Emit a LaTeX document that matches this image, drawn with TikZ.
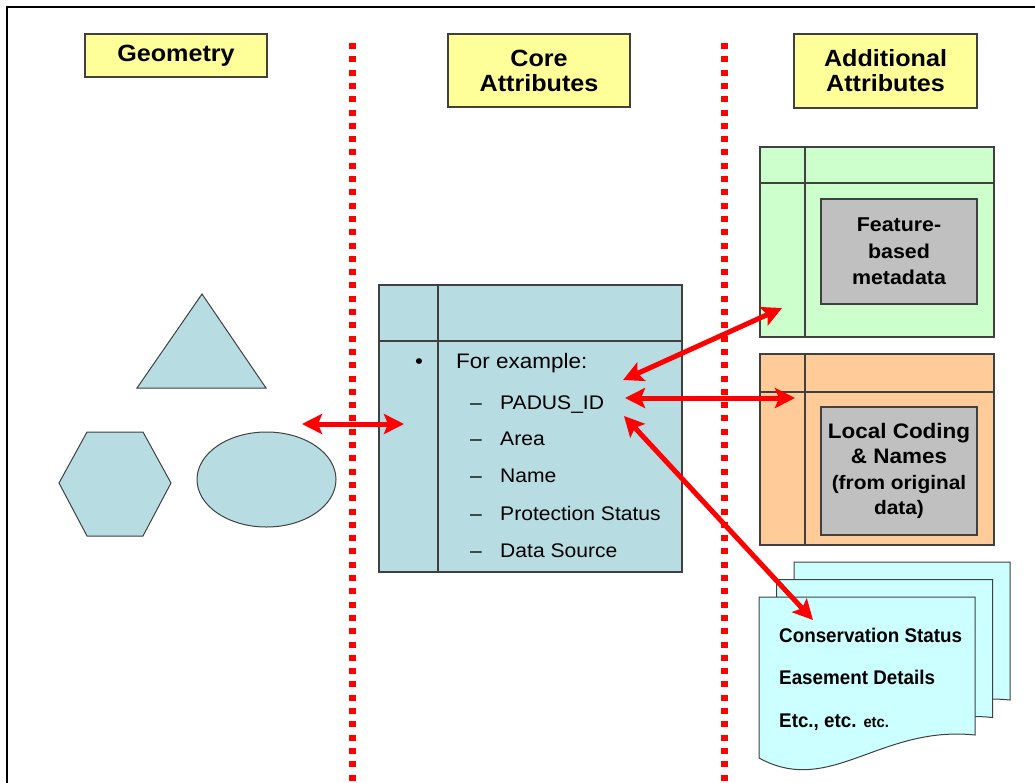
\documentclass[tikz,border=0pt]{standalone}
\usepackage{fontspec}
\setmainfont{Liberation Sans}[FakeStretch=1.07]
\newfontfamily\docfont{Liberation Sans}[FakeStretch=0.95]
\usetikzlibrary{arrows.meta,shapes.geometric}
\definecolor{shapeblue}{RGB}{183,221,227}
\definecolor{hdryellow}{RGB}{255,255,153}
\definecolor{tgreen}{RGB}{204,255,204}
\definecolor{torange}{RGB}{255,204,153}
\definecolor{tgray}{RGB}{192,192,192}
\definecolor{doccyan}{RGB}{204,255,255}
\definecolor{edgegray}{RGB}{64,64,64}
\tikzset{
  hdr/.style={draw=edgegray, line width=1.3pt, fill=hdryellow, align=center,
    inner sep=0pt, font=\bfseries\fontsize{23.5}{25}\selectfont},
  tablebox/.style={draw=edgegray, line width=1.3pt, inner sep=0pt},
  tline/.style={draw=edgegray, line width=1.3pt},
  graybox/.style={draw=edgegray, line width=1.3pt, fill=tgray, align=center, inner sep=0pt},
  geomshape/.style={draw=edgegray, line width=1pt, fill=shapeblue},
  docline/.style={draw=edgegray, line width=1pt, fill=doccyan},
  itemtxt/.style={anchor=base west, inner sep=0pt, font=\fontsize{19.7}{22}\selectfont},
  dashtxt/.style={anchor=base, inner sep=0pt, font=\fontsize{19.7}{22}\selectfont},
  doctxt/.style={anchor=base west, inner sep=0pt, font=\docfont\bfseries\fontsize{19.8}{22}\selectfont},
  redarrow/.style={draw=red, line width=5pt,
    {Stealth[length=20pt,width=20pt,inset=4pt]}-{Stealth[length=20pt,width=20pt,inset=4pt]}},
  reddots/.style={draw=red, line width=7pt, dash pattern=on 6pt off 7.3pt},
}
\begin{document}
\begin{tikzpicture}[x=1pt,y=-1pt]
\useasboundingbox (0,0) rectangle (1035,782);
% frame
\draw[line width=2.5pt] (6.8,800) -- (6.8,6.8) -- (1050,6.8);

% dotted separators
\draw[reddots] (352,43) -- (352,782);
\draw[reddots] (724,43) -- (724,782);

% headers
\node[hdr, minimum width=182pt, minimum height=43pt] (hgeo) at (176,55.5) {Geometry};
\node[hdr, minimum width=182pt, minimum height=73pt] (hcore) at (539,70.5) {Core\\Attributes};
\node[hdr, minimum width=183pt, minimum height=74pt] (hadd) at (885.5,71) {Additional\\Attributes};

% geometry shapes
\draw[geomshape] (202,294) -- (266,388) -- (137,388) -- cycle;
\draw[geomshape] (59,483) -- (87,432) -- (143,432) -- (171,483) -- (143,536) -- (87,536) -- cycle;
\node[geomshape, ellipse, minimum width=139pt, minimum height=95pt, inner sep=0pt] (ell) at (266.5,479.5) {};

% core table
\node[tablebox, fill=shapeblue, minimum width=303pt, minimum height=287pt] (core) at (530.5,428.5) {};
\draw[tline] (438,285) -- (438,572);
\draw[tline] (379,341) -- (682,341);
\node[anchor=base, inner sep=0pt, font=\fontsize{21}{24}\selectfont] (bul) at (419,368.5) {•};
\node[anchor=base west, inner sep=0pt, font=\fontsize{21}{24}\selectfont] (forex) at (456,368.5) {For example:};
\foreach \yy/\txt/\nm in {409/PADUS\_ID/padus, 445/Area/area, 482/Name/name, 520/Protection Status/prot, 557/Data Source/dsrc}{
  \node[dashtxt] (d\nm) at (476,\yy) {–};
  \node[itemtxt] (\nm) at (500,\yy) {\txt};
}

% green table
\node[tablebox, fill=tgreen, minimum width=234pt, minimum height=190pt] (green) at (877,242) {};
\draw[tline] (805,147) -- (805,337);
\draw[tline] (760,183) -- (994,183);
\node[graybox, minimum width=156pt, minimum height=105pt, font=\bfseries\fontsize{20}{26.5}\selectfont] (meta) at (899,251.5) {Feature-\\based\\metadata};

% orange table
\node[tablebox, fill=torange, minimum width=234pt, minimum height=191pt] (orange) at (877,449.5) {};
\draw[tline] (805,354) -- (805,545);
\draw[tline] (760,392) -- (994,392);
\node[graybox, minimum width=156pt, minimum height=128pt, font=\bfseries\fontsize{21}{25.5}\selectfont] (local) at (899,471) {Local Coding\\\& Names\\{\fontsize{19.5}{24}\selectfont (from original}\\{\fontsize{19.5}{24}\selectfont data)}};

% documents
\foreach \ox/\oy in {794/562, 776.5/579.5, 759/597}{
  \begin{scope}[shift={(\ox,\oy)}]
    \draw[docline] (0,0) -- (216,0) -- (216,138) .. controls (121,128) and (71,200) .. (0,161) -- cycle;
  \end{scope}
}
\node[doctxt] (cons) at (779,642) {Conservation Status};
\node[doctxt] (ease) at (779,684) {Easement Details};
\node[doctxt] (etc) at (779,727) {Etc., etc. {\fontsize{15.5}{18}\selectfont etc.}};

% arrow end points
\coordinate (ageo) at (302,424);
\coordinate (acore) at (404,424);
\coordinate (pgreen) at (623,380);
\coordinate (tgreenend) at (782,308);
\coordinate (porange) at (625,398);
\coordinate (torangeend) at (795,398);
\coordinate (pdoc) at (624,416);
\coordinate (tdoc) at (813,620);

% arrows
\draw[redarrow] (ageo) -- (acore);
\draw[redarrow] (pgreen) -- (tgreenend);
\draw[redarrow] (porange) -- (torangeend);
\draw[redarrow] (pdoc) -- (tdoc);
\end{tikzpicture}
\end{document}
